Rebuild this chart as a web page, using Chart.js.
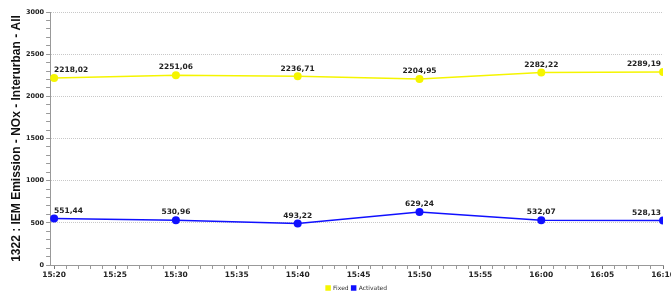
<!DOCTYPE html>
<html>
<head>
<meta charset="utf-8">
<script src="https://cdn.jsdelivr.net/npm/chart.js@4.4.0/dist/chart.umd.min.js"></script>
<style>
    html, body { margin: 0; padding: 0; background: #fff; overflow: hidden; }
    #wrap { width: 677px; height: 292px; }
</style>
</head>
<body>
<div id="wrap"><canvas id="emissionChart"></canvas></div>
<script>
// minutes after 15:20
const times = [0, 10, 20, 30, 40, 50];
const fixedValues = [2218.02, 2251.06, 2236.71, 2204.95, 2282.22, 2289.19];
const activatedValues = [551.44, 530.96, 493.22, 629.24, 532.07, 528.13];
const yAxisTitle = '1322 : IEM Emission - NOx - Interurban - All';

function minuteLabel(m) {
    const total = 15 * 60 + 20 + m;
    const h = Math.floor(total / 60);
    const mm = total % 60;
    return h + ':' + (mm < 10 ? '0' + mm : mm);
}

function commaNum(v) {
    return v.toFixed(2).replace('.', ',');
}

// value labels above each point, kept inside the plot area
const pointLabels = {
    id: 'pointLabels',
    afterDatasetsDraw(chart) {
        const ctx = chart.ctx;
        const area = chart.chartArea;
        ctx.save();
        ctx.font = 'bold 7.5px "DejaVu Sans", sans-serif';
        ctx.fillStyle = '#222';
        ctx.textBaseline = 'bottom';
        chart.data.datasets.forEach((ds, i) => {
            const meta = chart.getDatasetMeta(i);
            meta.data.forEach((pt, j) => {
                const txt = commaNum(ds.data[j].y);
                const w = ctx.measureText(txt).width;
                let x = pt.x - w / 2;
                if (x < area.left + 4) x = area.left + 4;
                if (x + w > area.right - 2) x = area.right - 2 - w;
                ctx.textAlign = 'left';
                ctx.fillText(txt, x, pt.y - 4);
            });
        });
        ctx.restore();
    }
};

const ctx = document.getElementById('emissionChart').getContext('2d');

new Chart(ctx, {
    type: 'line',
    data: {
        datasets: [
            {
                label: 'Fixed',
                data: times.map((t, i) => ({ x: t, y: fixedValues[i] })),
                borderColor: '#f5f500',
                backgroundColor: '#f5f500',
                borderWidth: 1.5,
                pointRadius: 4,
                pointBorderWidth: 0,
                tension: 0
            },
            {
                label: 'Activated',
                data: times.map((t, i) => ({ x: t, y: activatedValues[i] })),
                borderColor: '#1010ff',
                backgroundColor: '#1010ff',
                borderWidth: 1.5,
                pointRadius: 4,
                pointBorderWidth: 0,
                tension: 0
            }
        ]
    },
    options: {
        responsive: true,
        maintainAspectRatio: false,
        animation: false,
        layout: { padding: { top: 12, left: 11, right: 0, bottom: -9 } },
        plugins: {
            tooltip: { enabled: false },
            legend: {
                position: 'bottom',
                fullSize: false,
                labels: {
                    boxWidth: 4,
                    boxHeight: 4,
                    padding: 3,
                    color: '#333',
                    font: { size: 6, family: '"DejaVu Sans", sans-serif' }
                }
            }
        },
        scales: {
            x: {
                type: 'linear',
                min: -0.33,
                max: 50,
                afterBuildTicks: (scale) => {
                    const t = [];
                    for (let m = 0; m <= 50; m++) t.push({ value: m });
                    scale.ticks = t;
                },
                ticks: {
                    autoSkip: false,
                    maxRotation: 0,
                    includeBounds: false,
                    padding: 2,
                    color: '#222',
                    font: { size: 7.5, weight: 'bold', family: '"DejaVu Sans", sans-serif' },
                    callback: (v) => (v % 5 === 0 ? minuteLabel(v) : '')
                },
                grid: {
                    drawOnChartArea: false,
                    tickLength: 4,
                    tickColor: (c) => (c.tick && c.tick.value % 5 === 0 ? '#777' : '#999')
                },
                border: { color: '#999', width: 1 }
            },
            y: {
                min: 0,
                max: 3000,
                afterBuildTicks: (scale) => {
                    const t = [];
                    for (let v = 0; v <= 3000; v += 100) t.push({ value: v });
                    scale.ticks = t;
                },
                title: {
                    display: true,
                    text: yAxisTitle,
                    color: '#111',
                    padding: { top: 0, bottom: 1 },
                    font: { size: 12, weight: 'bold', lineHeight: 1, family: '"Liberation Sans", Arial, sans-serif' }
                },
                ticks: {
                    autoSkip: false,
                    padding: 2,
                    color: '#222',
                    font: { size: 6.5, weight: 'bold', family: '"DejaVu Sans", sans-serif' },
                    callback: (v) => (v % 500 === 0 ? v : '')
                },
                grid: {
                    color: (c) => (c.tick && c.tick.value % 500 === 0 ? '#c8c8c8' : 'rgba(0,0,0,0)'),
                    tickColor: '#999',
                    tickLength: 4
                },
                border: { color: '#999', width: 1, dash: [1, 1] }
            }
        }
    },
    plugins: [pointLabels]
});
</script>
</body>
</html>
